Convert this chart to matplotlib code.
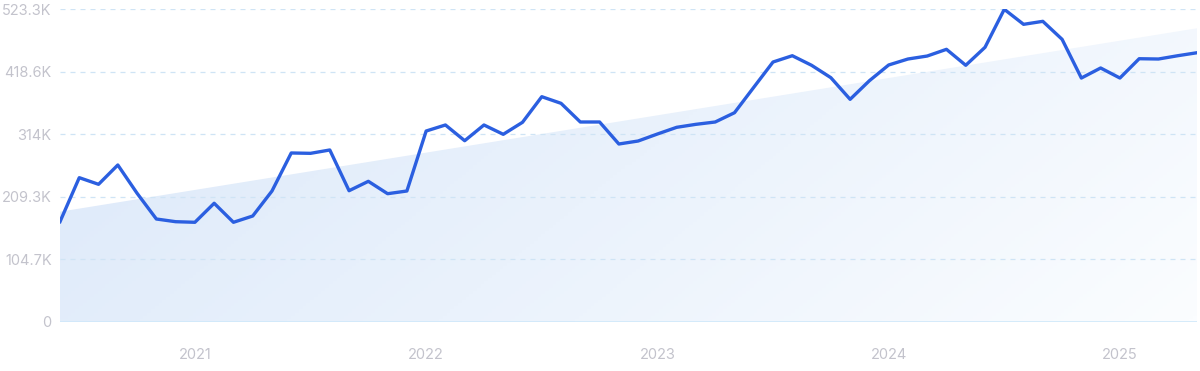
import numpy as np
import matplotlib.pyplot as plt
from matplotlib.patches import Polygon
from matplotlib.colors import LinearSegmentedColormap
import pandas as pd

plt.rcParams['font.family'] = ['Inter', 'DejaVu Sans']

# monthly values, Jun 2020 - May 2025 (thousands)
months = pd.date_range('2020-06-01', '2025-05-01', freq='MS')
values = [167.7, 241.3, 230.2, 262.5, 215.2, 172.2, 167.7, 166.7, 198.5, 166.7,
          177.2, 219.0, 282.6, 282.0, 287.6, 219.5, 235.2, 214.5, 219.0, 319.3,
          329.4, 303.1, 329.4, 313.8, 333.9, 376.7, 365.6, 334.4, 334.4, 297.6,
          302.6, 314.3, 325.5, 330.5, 334.4, 349.9, 392.4, 434.7, 445.2, 429.2,
          408.5, 372.3, 403.4, 429.7, 439.7, 444.7, 455.9, 429.2, 459.3, 522.8,
          497.7, 502.7, 472.6, 407.9, 424.7, 407.9, 440.2, 439.7, 445.2, 450.2]
trend_start, trend_end = 184.4, 491.1
y_ticks = [0, 104.7, 209.3, 314.0, 418.6, 523.3]
y_labels = ['0', '104.7K', '209.3K', '314K', '418.6K', '523.3K']
years = [2021, 2022, 2023, 2024, 2025]

x = np.arange(len(values))
fig = plt.figure(figsize=(12, 3.71), dpi=100)
ax = fig.add_axes([0.05, 0.1321, 0.9475, 0.8436])
ax.set_xlim(0, len(values) - 1)
ax.set_ylim(0, 523.3)

# trend area with gradient
n = len(values) - 1
poly = Polygon([(0, 0), (0, trend_start), (n, trend_end), (n, 0)],
               closed=True, facecolor='none', edgecolor='none')
ax.add_patch(poly)
gx, gy = np.meshgrid(np.linspace(0, 1, 300), np.linspace(0, 1, 100))
grad = 0.75 * gx + 0.25 * gy
cmap = LinearSegmentedColormap.from_list('fill', ['#dbe8f9', '#eaf2fc', '#fbfdff'])
im = ax.imshow(grad, extent=[0, n, 0, 523.3], origin='upper', aspect='auto',
               cmap=cmap, zorder=0)
im.set_clip_path(poly)

for t in y_ticks[1:]:
    ax.axhline(t, color='#cfe4f5', lw=0.9, ls=(0, (4, 4)), zorder=1)
ax.axhline(0, color='#cfe8fa', lw=1.2, zorder=1)

ax.plot(x, values, color='#2b5fe0', lw=2.4, zorder=3, solid_joinstyle='round')

ax.set_yticks(y_ticks)
ax.set_yticklabels(y_labels)
year_pos = [list(months).index(pd.Timestamp(f'{yr}-01-01')) for yr in years]
ax.set_xticks(year_pos)
ax.set_xticklabels([str(yr) for yr in years])
ax.tick_params(length=0, labelsize=10.5, labelcolor='#c3c3cc')
ax.tick_params(axis='y', pad=6)
ax.tick_params(axis='x', pad=19)
for s in ax.spines.values():
    s.set_visible(False)

fig.savefig('out.png')
